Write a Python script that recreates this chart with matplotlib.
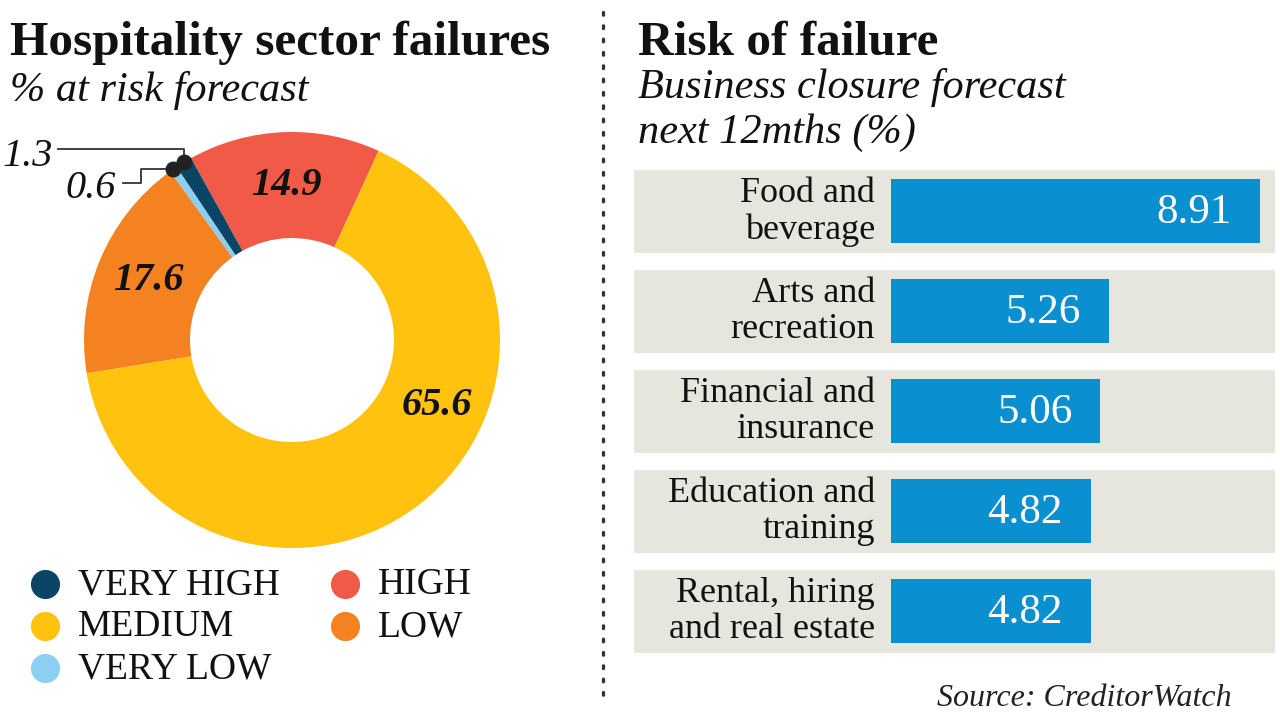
import matplotlib
matplotlib.use("Agg")
import matplotlib.pyplot as plt
import numpy as np

W, H = 1280, 720

RISK_LEVELS = ["VERY HIGH", "HIGH", "MEDIUM", "LOW", "VERY LOW"]
RISK_SHARE = [1.3, 14.9, 65.6, 17.6, 0.6]
RISK_COLOURS = ["#0B4566", "#F05A46", "#FFC20E", "#F58220", "#8DCFF0"]
# order of wedges going anticlockwise from the HIGH/MEDIUM boundary
PIE_ORDER = ["HIGH", "VERY HIGH", "VERY LOW", "LOW", "MEDIUM"]

SECTORS = [
    "Food and\nbeverage",
    "Arts and\nrecreation",
    "Financial and\ninsurance",
    "Education and\ntraining",
    "Rental, hiring\nand real estate",
]
CLOSURE_PCT = [8.91, 5.26, 5.06, 4.82, 4.82]

INK = "#111111"
BAR = "#0A8FD0"
BAND = "#E6E5DE"

plt.rcParams["font.family"] = ["Liberation Serif", "DejaVu Serif"]


def fx(x):
    return x / W


def fy(y):
    return 1 - y / H


fig = plt.figure(figsize=(W / 100, H / 100), dpi=100)

# ---- donut -------------------------------------------------------------
CX, CY, R_OUT, R_IN, HALF = 292, 340, 208, 102, 220
ax_pie = fig.add_axes([fx(CX - HALF), fy(CY + HALF), 2 * HALF / W, 2 * HALF / H])
vals = [RISK_SHARE[RISK_LEVELS.index(k)] for k in PIE_ORDER]
cols = [RISK_COLOURS[RISK_LEVELS.index(k)] for k in PIE_ORDER]
wedges, _ = ax_pie.pie(
    vals,
    colors=cols,
    startangle=65.4,
    counterclock=True,
    radius=R_OUT / HALF,
    wedgeprops=dict(width=(R_OUT - R_IN) / HALF, linewidth=0),
)
ax_pie.set_xlim(-1, 1)
ax_pie.set_ylim(-1, 1)
ax_pie.set_aspect("equal")
ax_pie.axis("off")

mid = {k: np.deg2rad((w.theta1 + w.theta2) / 2) for k, w in zip(PIE_ORDER, wedges)}
r_lab = (R_OUT + R_IN) / 2 / HALF
label_angle = {"HIGH": mid["HIGH"], "LOW": mid["LOW"], "MEDIUM": np.deg2rad(335)}
for k, a in label_angle.items():
    ax_pie.text(
        r_lab * np.cos(a) + (0.02 if k == "MEDIUM" else 0),
        r_lab * np.sin(a),
        f"{RISK_SHARE[RISK_LEVELS.index(k)]:.1f}",
        fontsize=29,
        fontweight="bold",
        style="italic",
        color=INK,
        ha="center",
        va="center",
    )

# overlay in pixel coordinates
ov = fig.add_axes([0, 0, 1, 1], zorder=5)
ov.set_xlim(0, W)
ov.set_ylim(H, 0)
ov.axis("off")
ov.patch.set_alpha(0)


def edge_px(k):
    a = mid[k]
    return CX + R_OUT * np.cos(a), CY - R_OUT * np.sin(a)


vx, vy = edge_px("VERY HIGH")
ov.plot([58, vx, vx], [149, 149, vy], color="#333333", lw=1.3)
ov.scatter([vx], [vy], s=110, color="#222222", zorder=6)
ov.text(53, 157, "1.3", fontsize=29, style="italic", ha="right", va="center", color=INK)

lx, ly = edge_px("VERY LOW")
ov.plot([123, 141, 141, lx], [183, 183, ly, ly], color="#333333", lw=1.3)
ov.scatter([lx], [ly], s=110, color="#222222", zorder=6)
ov.text(116, 189, "0.6", fontsize=29, style="italic", ha="right", va="center", color=INK)

# legend
for i, (name, c) in enumerate(zip(RISK_LEVELS, RISK_COLOURS)):
    row, col = divmod(i, 2)
    x0 = 45 + col * 300
    y0 = 584 + row * 42
    ov.scatter([x0], [y0], s=440, color=c, linewidths=0)
    ov.text(x0 + 33, y0 + 1, name, fontsize=27, ha="left", va="center", color=INK)

# divider
ov.plot([603, 603], [12, 700], color="#333333", lw=2.4, linestyle=(0, (0.8, 3.2)),
        dash_capstyle="round")

# titles
fig.text(fx(10), fy(55), "Hospitality sector failures", fontsize=35.5, fontweight="bold",
         ha="left", va="baseline", color=INK)
fig.text(fx(10), fy(101), "% at risk forecast", fontsize=30.5, style="italic",
         ha="left", va="baseline", color=INK)
fig.text(fx(638), fy(55), "Risk of failure", fontsize=35.5, fontweight="bold",
         ha="left", va="baseline", color=INK)
fig.text(fx(638), fy(98), "Business closure forecast", fontsize=30.5, style="italic",
         ha="left", va="baseline", color=INK)
fig.text(fx(638), fy(143), "next 12mths (%)", fontsize=30.5, style="italic",
         ha="left", va="baseline", color=INK)
fig.text(fx(1232), fy(706), "Source: CreditorWatch", fontsize=23, style="italic",
         ha="right", va="baseline", color="#222222")

# ---- bars --------------------------------------------------------------
PX_PER_UNIT = 41.4
BASE_PX = 891
left_px, right_px = 634, 1275
ax_bar = fig.add_axes([fx(left_px), fy(661), (right_px - left_px) / W, 500 / H])
xmin = (left_px - BASE_PX) / PX_PER_UNIT
xmax = (right_px - BASE_PX) / PX_PER_UNIT
ax_bar.set_xlim(xmin, xmax)
ax_bar.set_ylim(len(SECTORS) - 0.5, -0.5)
ax_bar.axis("off")
ypos = np.arange(len(SECTORS))
ax_bar.barh(ypos, xmax - xmin, left=xmin, height=0.83, color=BAND, linewidth=0)
ax_bar.barh(ypos, CLOSURE_PCT, left=0, height=0.64, color=BAR, linewidth=0)
for y, name, v in zip(ypos, SECTORS, CLOSURE_PCT):
    ax_bar.text(-0.39, y + 0.01, name, fontsize=26, ha="right", va="center",
                linespacing=1.12, color=INK)
    ax_bar.text(v - 0.68, y + 0.02, f"{v:.2f}", fontsize=31, ha="right", va="center",
                color="white")

fig.savefig("out.png", dpi=100, facecolor="white")
